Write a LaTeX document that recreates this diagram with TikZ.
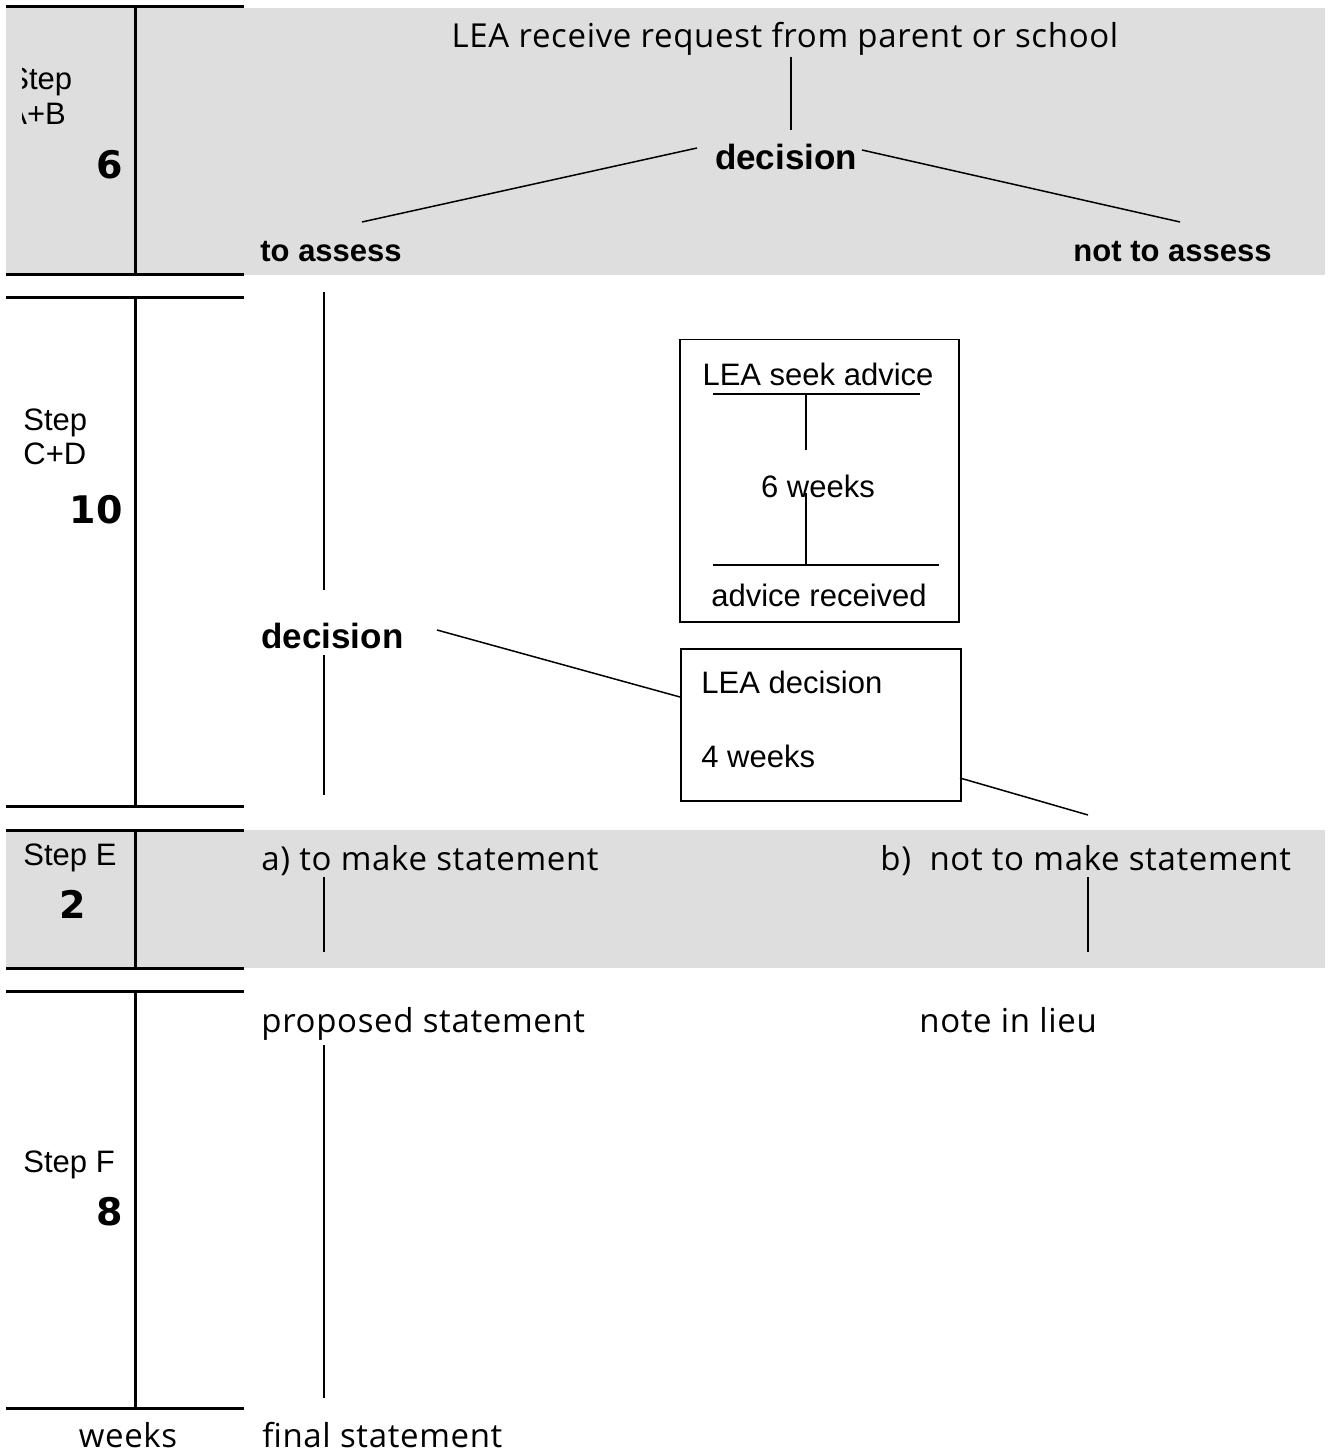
\documentclass[tikz,border=0pt]{standalone}
\usepackage{fontspec}
\setmainfont{Liberation Sans}
\newfontfamily\thinfont[LetterSpace=2]{Open Sans}
\newfontfamily\numfont{DejaVu Sans}
\definecolor{bandgray}{RGB}{222,222,222}
\tikzset{
  lbl/.style={inner sep=0pt, font=\fontsize{15.5}{18}\selectfont},
  boldlbl/.style={inner sep=0pt, font=\fontsize{15.5}{18}\selectfont\bfseries},
  bigdec/.style={inner sep=0pt, font=\fontsize{17.5}{20}\selectfont\bfseries},
  thinlbl/.style={inner sep=0pt, font=\thinfont\fontsize{16.5}{20}\selectfont},
  weeknum/.style={inner sep=0pt, font=\numfont\bfseries\fontsize{19}{22}\selectfont},
  rule/.style={line width=1.5pt},
  link/.style={line width=0.75pt},
  stagebox/.style={draw, line width=0.75pt, inner sep=0pt},
}
\begin{document}
\begin{tikzpicture}[x=0.5pt, y=-0.5pt]
  \useasboundingbox (0,0) rectangle (1332,1454);
  % shaded bands
  \fill[bandgray] (6,8) rectangle (1325,275);
  \fill[bandgray] (6,830) rectangle (1325,968);
  % weeks column
  \foreach \y in {7,275,298,806,830,968,991,1408}
    \draw[rule] (6,\y) -- (244,\y);
  \foreach \a/\b in {7/275,298/806,830/968,991/1408}
    \draw[rule] (135,\a) -- (135,\b);
  \begin{scope}
    \clip (22,8) rectangle (134,274);
    \node[lbl, anchor=base west] (stepab) at (8,90) {Step};
    \node[lbl, anchor=base west] (stepabx) at (6,125) {A+B};
  \end{scope}
  \node[weeknum, anchor=base east] (w6) at (123,179) {6};
  \node[lbl, anchor=base west] (stepcd) at (23,430) {Step};
  \node[lbl, anchor=base west] (stepcdx) at (23,465) {C+D};
  \node[weeknum, anchor=base east] (w10) at (123,523) {10};
  \node[lbl, anchor=base west] (stepe) at (23,865) {Step E};
  \node[weeknum, anchor=base] (w2) at (73,918) {2};
  \node[lbl, anchor=base west] (stepf) at (23,1172) {Step F};
  \node[weeknum, anchor=base east] (w8) at (123,1225) {8};
  \node[thinlbl, anchor=base] (weeks) at (128,1447) {weeks};

  % request and first decision
  \node[thinlbl, anchor=base] (req) at (785,48) {LEA receive request from parent or school};
  \node[bigdec, anchor=base] (dec1) at (786,170) {decision};
  \node[boldlbl, anchor=base west] (assess) at (260,262) {to assess};
  \node[boldlbl, anchor=base east] (noassess) at (1272,262) {not to assess};
  \coordinate (r1) at (791,57);
  \coordinate (r2) at (791,130);
  \coordinate (d1a) at (697,148);
  \coordinate (d1b) at (362,222);
  \coordinate (d1c) at (862,150);
  \coordinate (d1d) at (1180,222);
  \draw[link] (r1) -- (r2);
  \draw[link] (d1a) -- (d1b);
  \draw[link] (d1c) -- (d1d);

  % assessment
  \node[stagebox, minimum width=139.5pt, minimum height=141pt, anchor=north west] (advice) at (679,339) {};
  \node[lbl, anchor=base] (seek) at (818,386) {LEA seek advice};
  \node[lbl, anchor=base] (six) at (818,497) {6 weeks};
  \node[lbl, anchor=base] (got) at (819,606) {advice received};
  \coordinate (s1) at (713,394);
  \coordinate (s2) at (920,394);
  \coordinate (s3) at (806,394);
  \coordinate (s4) at (806,450);
  \coordinate (s5) at (806,493);
  \coordinate (s6) at (806,565);
  \coordinate (s7) at (713,565);
  \coordinate (s8) at (939,565);
  \draw[link] (s1) -- (s2);
  \draw[link] (s3) -- (s4);
  \draw[link] (s5) -- (s6);
  \draw[link] (s7) -- (s8);

  \node[bigdec, anchor=base west] (dec2) at (261,648) {decision};
  \coordinate (a1) at (324,292);
  \coordinate (a2) at (324,590);
  \coordinate (a3) at (324,655);
  \coordinate (a4) at (324,795);
  \draw[link] (a1) -- (a2);
  \draw[link] (a3) -- (a4);

  \node[stagebox, minimum width=140pt, minimum height=76pt, anchor=north west] (leadec) at (680,648) {};
  \node[lbl, anchor=base west] (leadect) at (701,693) {LEA decision};
  \node[lbl, anchor=base west] (four) at (701,767) {4 weeks};
  \coordinate (e1) at (437,630);
  \coordinate (e2) at (680,697);
  \coordinate (e3) at (960,778);
  \coordinate (e4) at (1088,815);
  \draw[link] (e1) -- (e2);
  \draw[link] (e3) -- (e4);

  % statement
  \node[thinlbl, anchor=base west] (make) at (261,870) {a) to make statement};
  \node[thinlbl, anchor=base west] (nomake) at (880,870) {b)~ not to make statement};
  \coordinate (m1) at (324,877);
  \coordinate (m2) at (324,952);
  \coordinate (m3) at (1088,877);
  \coordinate (m4) at (1088,952);
  \draw[link] (m1) -- (m2);
  \draw[link] (m3) -- (m4);

  \node[thinlbl, anchor=base west] (prop) at (261,1032) {proposed statement};
  \node[thinlbl, anchor=base west] (lieu) at (919,1032) {note in lieu};
  \node[thinlbl, anchor=base west] (final) at (262,1447) {final statement};
  \coordinate (p1) at (324,1045);
  \coordinate (p2) at (324,1398);
  \draw[link] (p1) -- (p2);
\end{tikzpicture}
\end{document}
